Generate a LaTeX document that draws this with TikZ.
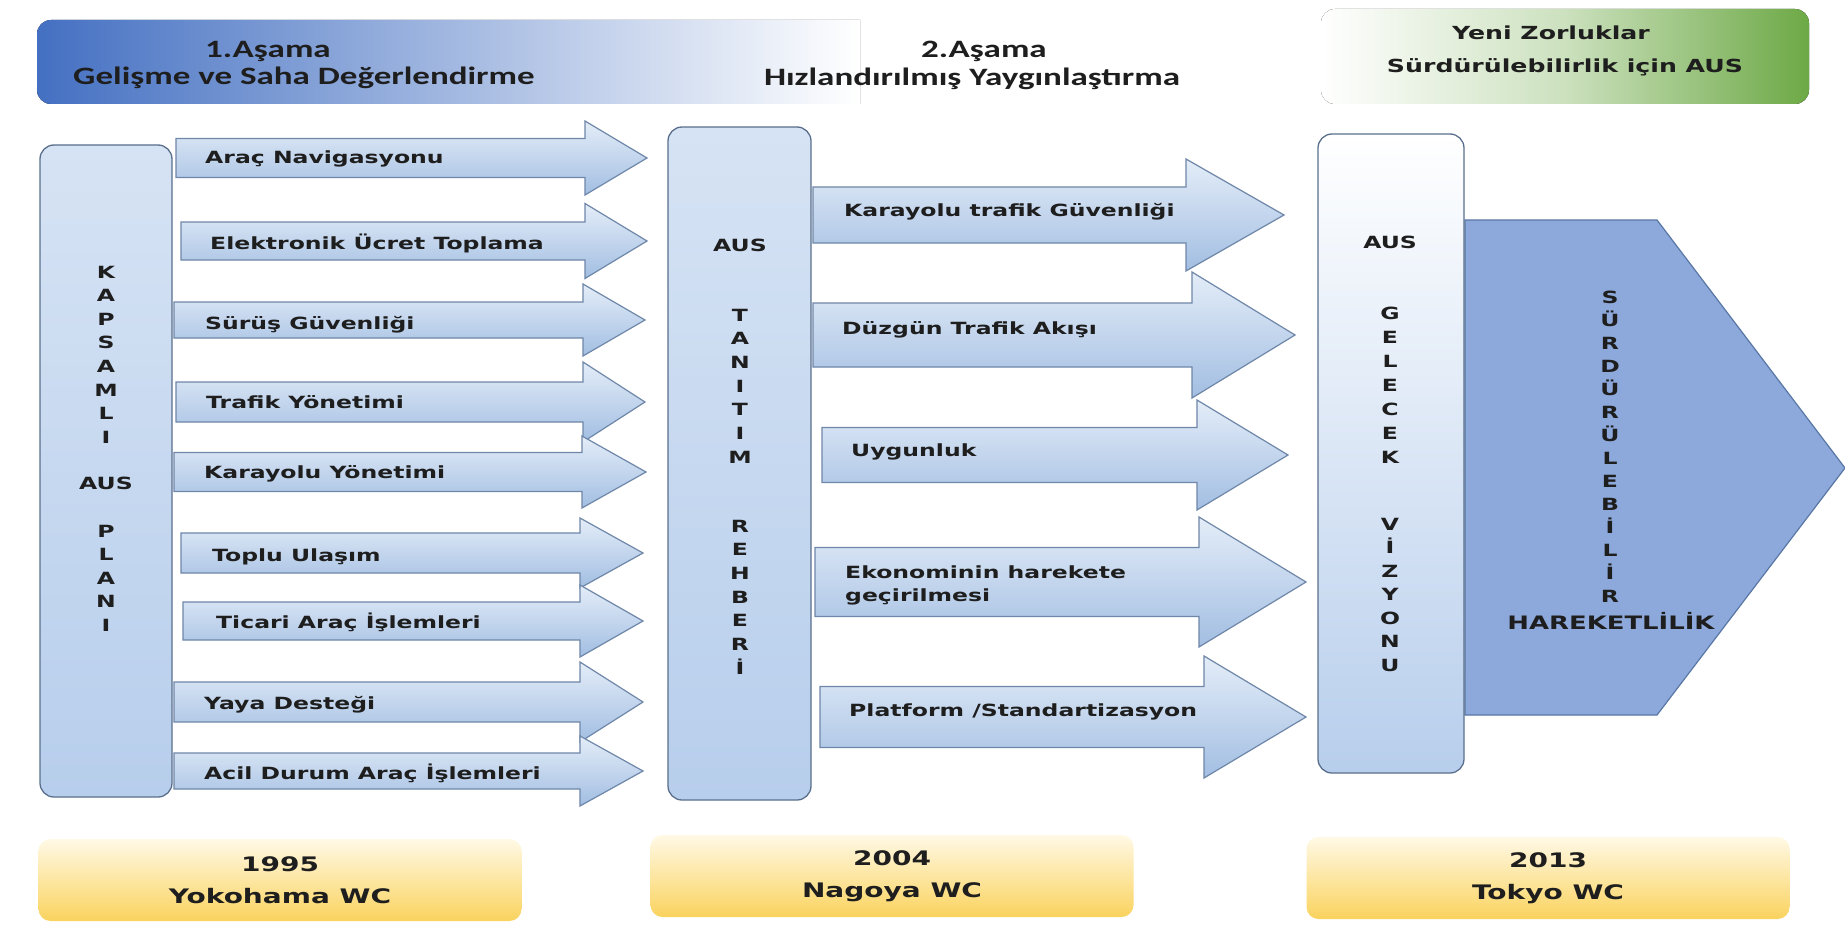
\documentclass[tikz,border=0pt]{standalone}
\usepackage{fontspec}
\setmainfont{DejaVu Sans}[FakeStretch=1.4]
\newfontfamily\titlefont{Carlito}[FakeStretch=1.4]

\definecolor{frame}{HTML}{5A6F8C}
\definecolor{arrowline}{HTML}{6F87A8}
\definecolor{arrowtop}{HTML}{E4EDF8}
\definecolor{arrowbot}{HTML}{A2BEE2}
\definecolor{coltop}{HTML}{D6E3F4}
\definecolor{colbot}{HTML}{B7CEEC}
\definecolor{ink}{HTML}{1E1E1E}
\definecolor{bandblue}{HTML}{4470C2}
\definecolor{bandgreen}{HTML}{6DA946}
\definecolor{goldtop}{HTML}{FFF9E6}
\definecolor{goldbot}{HTML}{FAD35E}
\definecolor{bigfill}{HTML}{8DA9DB}
\definecolor{bigline}{HTML}{5877A4}

% block arrow: start x, centre y, head base x, tip x, half shaft, half head
\newcommand\drawflow[6]{%
  \draw[arrowbody] (#1,#2-#5) -- (#3,#2-#5) -- (#3,#2-#6) -- (#4,#2)
    -- (#3,#2+#6) -- (#3,#2+#5) -- (#1,#2+#5) -- cycle;}

\begin{document}
\begin{tikzpicture}[x=1pt,y=-1pt,
  every node/.style={text=ink, inner sep=0pt},
  lbl/.style={font=\fontsize{16.8}{23}\selectfont\bfseries, anchor=base west},
  vletter/.style={font=\fontsize{16.8}{23}\selectfont\bfseries, text height=12pt, text depth=0pt, anchor=center},
  colbox/.style={draw=frame, line width=1.3pt, rounded corners=14pt, top color=coltop, bottom color=colbot},
  arrowbody/.style={draw=arrowline, line width=1.2pt, top color=arrowtop, bottom color=arrowbot, line join=miter},
  bigshape/.style={draw=bigline, line width=1.2pt, fill=bigfill},
  phase/.style={font=\titlefont\fontsize{25}{29}\selectfont\bfseries, anchor=base},
  phase2/.style={font=\fontsize{18}{22}\selectfont\bfseries, anchor=base},
  yearbox/.style={rounded corners=12pt, top color=goldtop, bottom color=goldbot, align=center,
    font=\fontsize{20}{32}\selectfont\bfseries, minimum height=82pt, minimum width=483pt},
]
\useasboundingbox (0,0) rectangle (1845,939);
\fill[white] (0,0) rectangle (1845,939);

% ---- phase banner ----
\fill[left color=bandblue, right color=white]
  (860,20) [rounded corners=14pt] -- (37,20) -- (37,104) [sharp corners] -- (860,104) -- cycle;
\fill[left color=white, right color=bandgreen, middle color=bandgreen!35!white, rounded corners=14pt]
  (1321,9) rectangle (1809,104);
\node[phase] (p1a) at (268,58) {1.Aşama};
\node[phase] (p1b) at (304,85) {Gelişme ve Saha Değerlendirme};
\node[phase] (p2a) at (984,58) {2.Aşama};
\node[phase] (p2b) at (972,86) {Hızlandırılmış Yaygınlaştırma};
\node[phase2] (p3a) at (1551,40) {Yeni Zorluklar};
\node[phase2] (p3b) at (1565,73) {Sürdürülebilirlik için AUS};

% ---- column boxes ----
\draw[colbox] (40,145) rectangle (172,797);
\draw[colbox] (668,127) rectangle (811,800);
\draw[bigshape] (1465,220) -- (1657,220) -- (1845,468) -- (1657,715) -- (1465,715) -- cycle;
\draw[colbox, top color=white] (1318,134) rectangle (1464,773);

% vertical lettering
\foreach \ch [count=\i] in {K,A,P,S,A,M,L,I}
  \node[vletter] (kap\i) at (106,{272+23.6*(\i-1)}) {\ch};
\node[vletter] (aus1) at (106,483) {AUS};
\foreach \ch [count=\i] in {P,L,A,N,I}
  \node[vletter] (pla\i) at (106,{531+23.6*(\i-1)}) {\ch};

\node[vletter] (aus2) at (740,245) {AUS};
\foreach \ch [count=\i] in {T,A,N,I,T,I,M}
  \node[vletter] (tan\i) at (740,{315+23.7*(\i-1)}) {\ch};
\foreach \ch [count=\i] in {R,E,H,B,E,R,İ}
  \node[vletter] (reh\i) at (740,{526+23.7*(\i-1)}) {\ch};

\node[vletter] (aus3) at (1390,242) {AUS};
\foreach \ch [count=\i] in {G,E,L,E,C,E,K}
  \node[vletter] (gel\i) at (1390,{313+24*(\i-1)}) {\ch};
\foreach \ch [count=\i] in {V,İ,Z,Y,O,N,U}
  \node[vletter] (viz\i) at (1390,{524+23.5*(\i-1)}) {\ch};

\foreach \ch [count=\i] in {S,Ü,R,D,Ü,R,Ü,L,E,B,İ,L,İ,R}
  \node[vletter] (sur\i) at (1610,{297+23.05*(\i-1)}) {\ch};
\node[font=\fontsize{18.5}{22}\selectfont\bfseries, anchor=base] (hrk) at (1611,629) {HAREKETLİLİK};

% ---- first column of arrows ----
\drawflow{176}{158}{585}{647}{19.5}{37}
\drawflow{181}{241}{585}{647}{19}{37.5}
\drawflow{174}{320}{583}{645}{18}{36}
\drawflow{176}{402}{583}{645}{20}{40}
\drawflow{174}{472}{582}{646}{19.5}{36}
\drawflow{181}{553}{580}{643}{20}{35}
\drawflow{183}{621}{580}{643}{19}{36}
\drawflow{174}{702}{580}{643}{20}{40}
\drawflow{174}{771}{580}{643}{18}{35}

\node[lbl] (a1) at (205,164) {Araç Navigasyonu};
\node[lbl] (a2) at (210,249) {Elektronik Ücret Toplama};
\node[lbl] (a3) at (205,329) {Sürüş Güvenliği};
\node[lbl] (a4) at (206,408) {Trafik Yönetimi};
\node[lbl] (a5) at (204,478) {Karayolu Yönetimi};
\node[lbl] (a6) at (212,561) {Toplu Ulaşım};
\node[lbl] (a7) at (216,628) {Ticari Araç İşlemleri};
\node[lbl] (a8) at (204,709) {Yaya Desteği};
\node[lbl] (a9) at (204,779) {Acil Durum Araç İşlemleri};

% ---- second column of arrows ----
\drawflow{813}{215}{1186}{1284}{28}{56}
\drawflow{813}{335}{1192}{1295}{32}{63}
\drawflow{822}{455}{1197}{1288}{27.5}{55}
\drawflow{815}{582}{1199}{1306}{34.5}{65}
\drawflow{820}{717}{1204}{1306}{30.5}{61}

\node[lbl] (b1) at (844,216) {Karayolu trafik Güvenliği};
\node[lbl] (b2) at (842,334) {Düzgün Trafik Akışı};
\node[lbl] (b3) at (851,456) {Uygunluk};
\node[lbl, anchor=north west, align=left] (b4) at (845,566) {Ekonominin harekete\\geçirilmesi};
\node[lbl] (b5) at (849,716) {Platform /Standartizasyon};

% ---- year boxes ----
\node[yearbox] (y1) at (280,880) {1995\\Yokohama WC};
\node[yearbox] (y2) at (892,876) {2004\\Nagoya WC};
\node[yearbox] (y3) at (1548,878) {2013\\Tokyo WC};
\end{tikzpicture}
\end{document}
